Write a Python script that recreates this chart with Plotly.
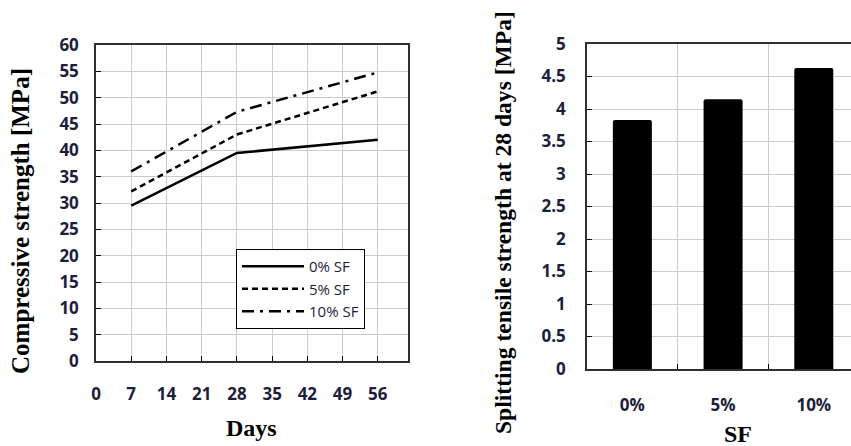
import plotly.graph_objects as go

W, H = 851, 446

# ---- data ----
days = [7, 28, 56]
sf0 = [29.5, 39.5, 42.0]
sf5 = [32.2, 43.0, 51.2]
sf10 = [36.0, 47.3, 54.8]
series_names = ["0% SF", "5% SF", "10% SF"]

x_ticks = [0, 7, 14, 21, 28, 35, 42, 49, 56]
y1_ticks = list(range(0, 61, 5))

sf_cats = ["0%", "5%", "10%"]
tensile = [3.83, 4.15, 4.63]
y2_ticks = [0, 0.5, 1, 1.5, 2, 2.5, 3, 3.5, 4, 4.5, 5]
y2_labels = ["0", "0.5", "1", "1.5", "2", "2.5", "3", "3.5", "4", "4.5", "5"]

# ---- figure ----
def px_x(p):
    return p / W

def px_y(p):
    return 1 - p / H

fig = go.Figure()

line_styles = ["solid", "6px,4px", "12px,6px,3px,6px"]
for name, vals, dash in zip(series_names, [sf0, sf5, sf10], line_styles):
    fig.add_trace(go.Scatter(
        x=days, y=vals, name=name, mode="lines",
        line=dict(color="black", width=2.5, dash=dash),
        xaxis="x", yaxis="y"))

fig.add_trace(go.Bar(
    x=sf_cats, y=tensile, marker=dict(color="black", line=dict(width=0), cornerradius=2),
    showlegend=False, xaxis="x2", yaxis="y2"))

tick_font = dict(family="Open Sans", size=17, color="#1e1e3a", weight="bold")
title_font = dict(family="Liberation Serif", size=25, color="black", weight="bold")
grid_col = "#cccccc"

fig.update_layout(
    width=W, height=H,
    margin=dict(l=0, r=0, t=0, b=0),
    paper_bgcolor="white", plot_bgcolor="white",
    bargap=0.57,
    xaxis=dict(domain=[px_x(96), px_x(408)], range=[0, 62],
               tickvals=x_ticks, ticks="inside", ticklen=5, tickcolor="black",
               showline=True, linecolor="#303030", linewidth=1.5, mirror=True,
               showgrid=True, gridcolor=grid_col, gridwidth=1, zeroline=False,
               tickfont=tick_font, ticklabelstandoff=17, automargin=False),
    yaxis=dict(domain=[px_y(361), px_y(45)], range=[0, 60],
               tickvals=y1_ticks, ticks="inside", ticklen=5, tickcolor="black",
               showline=True, linecolor="#303030", linewidth=1.5, mirror=True,
               showgrid=True, gridcolor=grid_col, gridwidth=1, zeroline=False,
               tickfont=tick_font, ticklabelstandoff=12, automargin=False),
    xaxis2=dict(domain=[px_x(587), 1.0], range=[-0.5, 2.41], type="category",
                tickson="boundaries", ticks="inside", ticklen=5, tickcolor="black",
                showline=True, linecolor="#303030", linewidth=1.5, mirror=True,
                showgrid=True, gridcolor=grid_col, gridwidth=1,
                tickfont=tick_font, ticklabelstandoff=20, automargin=False, anchor="y2"),
    yaxis2=dict(domain=[px_y(369), px_y(44)], range=[0, 5],
                tickvals=y2_ticks, ticktext=y2_labels, ticks="inside", ticklen=5, tickcolor="black",
                showline=True, linecolor="#303030", linewidth=1.5, mirror=False,
                showgrid=True, gridcolor=grid_col, gridwidth=1, zeroline=False,
                tickfont=tick_font, ticklabelstandoff=16, automargin=False, anchor="x2"),
    legend=dict(x=px_x(236), y=px_y(249), xanchor="left", yanchor="top",
                bgcolor="white", bordercolor="black", borderwidth=1,
                font=dict(family="Open Sans", size=15, color="#1e1e3a"),
                itemwidth=62, tracegroupgap=0),
    showlegend=True,
    annotations=[
        dict(text="Compressive strength [MPa]", x=px_x(20), y=px_y(221), xref="paper", yref="paper",
             textangle=-90, showarrow=False, font=title_font, xanchor="center", yanchor="middle"),
        dict(text="Splitting tensile strength at 28 days [MPa]", x=px_x(503), y=px_y(222),
             xref="paper", yref="paper", textangle=-90, showarrow=False,
             font=dict(family="Liberation Serif", size=23.6, color="black", weight="bold"),
             xanchor="center", yanchor="middle"),
        dict(text="Days", x=px_x(251), y=px_y(428), xref="paper", yref="paper",
             showarrow=False, font=dict(family="Liberation Serif", size=24, color="black", weight="bold"),
             xanchor="center", yanchor="middle"),
        dict(text="SF", x=px_x(738), y=px_y(434), xref="paper", yref="paper",
             showarrow=False, font=dict(family="Liberation Serif", size=24, color="black", weight="bold"),
             xanchor="center", yanchor="middle"),
    ],
)

fig.write_html("out.html", config={"displayModeBar": False},
               post_script="document.body.style.margin='0';document.body.style.overflow='hidden';")
